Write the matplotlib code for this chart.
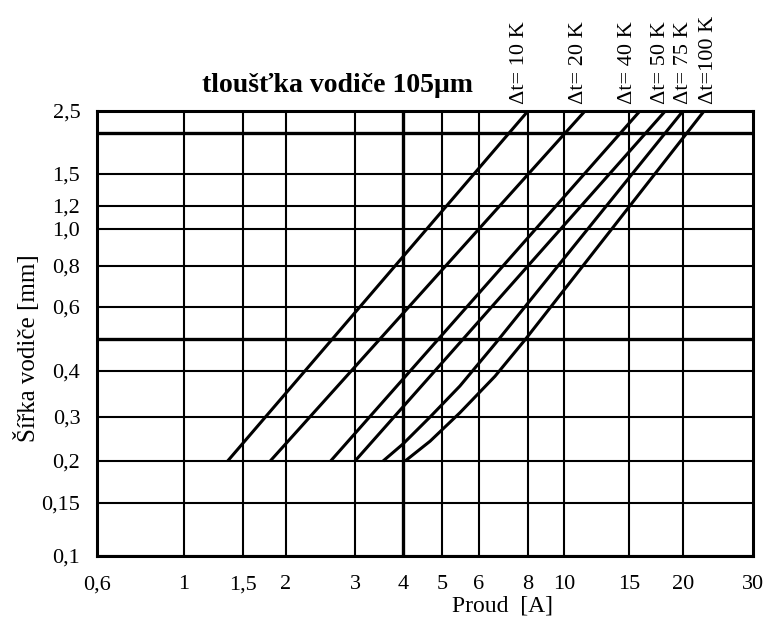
import numpy as np
import matplotlib
matplotlib.use("Agg")
import matplotlib.pyplot as plt

plt.rcParams['font.family'] = ['Liberation Serif', 'DejaVu Serif']

# axis ticks (current in A, conductor width in mm)
x_ticks = [0.6, 1, 1.5, 2, 3, 4, 5, 6, 8, 10, 15, 20, 30]
x_labels = ["0,6", "1", "1,5", "2", "3", "4", "5", "6", "8", "10", "15", "20", "30"]
y_ticks = [0.1, 0.15, 0.2, 0.3, 0.4, 0.6, 0.8, 1.0, 1.2, 1.5, 2.5]
y_labels = ["0,1", "0,15", "0,2", "0,3", "0,4", "0,6", "0,8", "1,0", "1,2", "1,5", "2,5"]
y_extra = [0.5, 2.0]          # unlabeled grid lines
x_bold = [4]
y_bold = [0.5, 2.0]

# the printed chart is a hand-drawn "log" paper, calibrate the scales to its grid
x_grid_vals = [0.6, 1, 1.5, 2, 3, 4, 5, 6, 8, 10, 15, 20, 30]
x_grid_pos = [0, 87, 146, 189, 258, 306, 345, 382, 431, 467, 532, 586, 656]
y_grid_vals = [0.1, 0.15, 0.2, 0.3, 0.4, 0.5, 0.6, 0.8, 1.0, 1.2, 1.5, 2.0, 2.5]
y_grid_pos = [0, 53, 95, 139, 185, 217, 249, 290, 327, 350, 382, 423, 445]

# curves: current [A] vs width [mm]
labels = ["\u0394t= 10 K", "\u0394t= 20 K", "\u0394t= 40 K", "\u0394t= 50 K", "\u0394t= 75 K", "\u0394t=100 K"]
i_10 = [1.35, 8.0]
w_10 = [0.2, 2.5]
i_20 = [1.8, 11.4]
w_20 = [0.2, 2.5]
i_40 = [2.6, 15.9]
w_40 = [0.2, 2.5]
i_50 = [3.0, 18.2]
w_50 = [0.2, 2.5]
i_75 = [3.55, 4.0, 4.67, 5.46, 6.59, 20.0]
w_75 = [0.2, 0.234, 0.3, 0.364, 0.483, 2.5]
i_100 = [4.05, 4.67, 5.46, 6.59, 7.86, 22.6]
w_100 = [0.2, 0.24, 0.308, 0.387, 0.497, 2.5]

# label shift (pixels) relative to the top end of each curve
label_dx = [-9, -7, -12, -5, 0, 4]


def calib(vals, pos):
    lv = np.log10(vals)
    pos = np.asarray(pos, float)

    def fwd(v):
        v = np.asarray(v, float)
        return np.interp(np.log10(np.clip(v, 1e-6, None)), lv, pos)

    def inv(p):
        return 10 ** np.interp(np.asarray(p, float), pos, lv)
    return fwd, inv


fig = plt.figure(figsize=(7.67, 6.19), dpi=100)
ax = fig.add_axes([97 / 767, 63 / 619, 656 / 767, 445 / 619])
ax.set_xscale('function', functions=calib(x_grid_vals, x_grid_pos))
ax.set_yscale('function', functions=calib(y_grid_vals, y_grid_pos))
ax.set_xlim(0.6, 30)
ax.set_ylim(0.1, 2.5)

for x in x_ticks[1:-1]:
    ax.axvline(x, color='black', lw=2.4 if x in x_bold else 1.5, zorder=1)
for y in y_ticks[:-1] + y_extra:
    ax.axhline(y, color='black', lw=2.4 if y in y_bold else 1.5, zorder=1)

curves = [(i_10, w_10), (i_20, w_20), (i_40, w_40), (i_50, w_50), (i_75, w_75), (i_100, w_100)]
for (cx, cy), lab, dx in zip(curves, labels, label_dx):
    ax.plot(cx, cy, color='black', lw=2.2, solid_capstyle='butt', solid_joinstyle='round', zorder=3)
    ax.annotate(lab, xy=(cx[-1], cy[-1]), xytext=(dx, 7), textcoords='offset pixels',
                rotation=90, ha='center', va='bottom', fontsize=16, annotation_clip=False)

for s in ax.spines.values():
    s.set_linewidth(2.2)

ax.set_xticks(x_ticks)
ax.set_xticklabels(x_labels, fontsize=16)
ax.set_yticks(y_ticks)
ax.set_yticklabels(y_labels, fontsize=16)
ax.minorticks_off()
ax.tick_params(length=0)
ax.tick_params(axis='x', pad=14)
ax.tick_params(axis='y', pad=12)

fig.text(502 / 767, 1 - 606 / 619, "Proud  [A]", ha='center', va='center', fontsize=17)
fig.text(27 / 767, 1 - 348 / 619, "Šířka vodiče [mm]", ha='center', va='center',
         rotation=90, fontsize=18)
fig.text(338 / 767, 1 - 85 / 619, "tloušťka vodiče 105\u03bcm", ha='center', va='center',
         fontsize=20, fontweight='bold')

fig.savefig("out.png", dpi=100, facecolor='white')
